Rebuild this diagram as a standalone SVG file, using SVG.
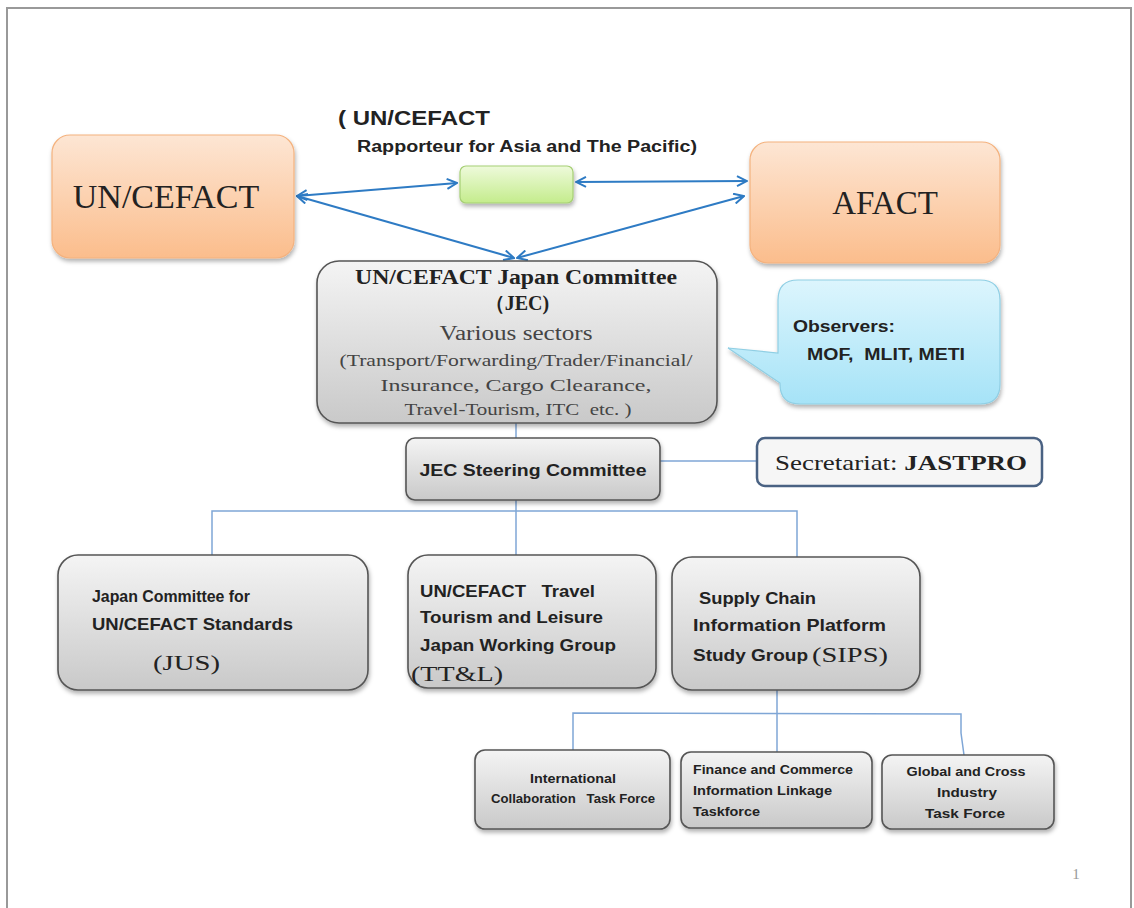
<svg xmlns="http://www.w3.org/2000/svg" width="1134" height="908" viewBox="0 0 1134 908">
<defs>
<linearGradient id="gOrange" x1="0" y1="0" x2="0" y2="1"><stop offset="0" stop-color="#fde6d4"/><stop offset="1" stop-color="#fbbd8c"/></linearGradient>
<linearGradient id="gGray" x1="0" y1="0" x2="0" y2="1"><stop offset="0" stop-color="#f4f4f4"/><stop offset="1" stop-color="#c9c9c9"/></linearGradient>
<linearGradient id="gGreen" x1="0" y1="0" x2="0" y2="1"><stop offset="0" stop-color="#eefadb"/><stop offset="1" stop-color="#c4ec8c"/></linearGradient>
<linearGradient id="gBlue" x1="0" y1="0" x2="0" y2="1"><stop offset="0" stop-color="#dcf5fd"/><stop offset="1" stop-color="#a6e3f7"/></linearGradient>
<filter id="sh" x="-10%" y="-10%" width="125%" height="130%"><feDropShadow dx="1" dy="3" stdDeviation="2" flood-color="#000" flood-opacity="0.3"/></filter>
<marker id="ah" viewBox="0 0 12 12" refX="11" refY="6" markerWidth="12" markerHeight="12" markerUnits="userSpaceOnUse" orient="auto-start-reverse"><path d="M1,1 L11,6 L1,11" fill="none" stroke="#2e7bc4" stroke-width="2"/></marker>
<style>
text{white-space:pre}
.orange{fill:url(#gOrange);stroke:#f4b27e;stroke-width:1.2}
.gray{fill:url(#gGray);stroke:#555;stroke-width:1.6}
.green{fill:url(#gGreen);stroke:#a6cf74;stroke-width:1.2}
.blue{fill:url(#gBlue);stroke:#90cfe4;stroke-width:1.2}
.serif{font-family:"Liberation Serif","DejaVu Serif",serif;fill:#222}
.sans{font-family:"Liberation Sans","DejaVu Sans",sans-serif;fill:#222;font-weight:bold}
.arrow{stroke:#2e7bc4;stroke-width:2;fill:none}
.conn{stroke:#7fa6d6;stroke-width:1.5;fill:none}
</style>
</defs>
<rect x="0" y="0" width="1134" height="908" fill="#fff"/>
<rect x="7" y="8" width="1124" height="910" fill="none" stroke="#999" stroke-width="2"/>

<text class="sans" x="338" y="125" font-size="20" textLength="152" lengthAdjust="spacingAndGlyphs">( UN/CEFACT</text>
<text class="sans" x="357" y="152" font-size="16" textLength="340" lengthAdjust="spacingAndGlyphs">Rapporteur for Asia and The Pacific)</text>

<g id="connectors">
<line class="arrow" x1="297" y1="196" x2="457" y2="183" marker-start="url(#ah)" marker-end="url(#ah)"/>
<line class="arrow" x1="576" y1="182" x2="747" y2="181" marker-start="url(#ah)" marker-end="url(#ah)"/>
<line class="arrow" x1="297" y1="196" x2="514" y2="258" marker-start="url(#ah)" marker-end="url(#ah)"/>
<line class="arrow" x1="744" y1="196" x2="517" y2="258" marker-start="url(#ah)" marker-end="url(#ah)"/>
<line class="conn" x1="516" y1="423" x2="516" y2="438"/>
<line class="conn" x1="660" y1="461" x2="757" y2="461"/>
<line class="conn" x1="516" y1="500" x2="516" y2="555"/>
<polyline class="conn" points="212,555 212,511 797,511 797,557"/>
<line class="conn" x1="777" y1="690" x2="777" y2="752"/>
<polyline class="conn" points="573,750 573,713 961,714 961,733 964,755"/>
</g>

<g id="uncefact">
<rect class="orange" x="52" y="135" width="242" height="123" rx="18" filter="url(#sh)"/>
<text class="serif" x="166" y="208" font-size="34" text-anchor="middle">UN/CEFACT</text>
</g>

<g id="rapporteur">
<rect class="green" x="460" y="166" width="113" height="37" rx="6" filter="url(#sh)"/>
</g>

<g id="afact">
<rect class="orange" x="750" y="142" width="250" height="121" rx="18" filter="url(#sh)"/>
<text class="serif" x="885" y="214" font-size="33" text-anchor="middle">AFACT</text>
</g>

<g id="jec">
<rect class="gray" x="317" y="261" width="400" height="162" rx="22" filter="url(#sh)"/>
<text class="serif" x="516" y="284" font-size="20" font-weight="bold" text-anchor="middle" textLength="322" lengthAdjust="spacingAndGlyphs">UN/CEFACT Japan Committee</text>
<text class="serif" x="517" y="310" font-size="20" font-weight="bold" text-anchor="middle">（JEC)</text>
<text class="serif" x="516" y="340" font-size="20" text-anchor="middle" textLength="153" lengthAdjust="spacingAndGlyphs" style="fill:#444">Various sectors</text>
<text class="serif" x="516" y="366" font-size="17" text-anchor="middle" textLength="353" lengthAdjust="spacingAndGlyphs" style="fill:#444">(Transport/Forwarding/Trader/Financial/</text>
<text class="serif" x="516" y="391" font-size="17" text-anchor="middle" textLength="271" lengthAdjust="spacingAndGlyphs" style="fill:#444">Insurance, Cargo Clearance,</text>
<text class="serif" x="518" y="415" font-size="17" text-anchor="middle" textLength="227" lengthAdjust="spacingAndGlyphs" style="fill:#444">Travel-Tourism, ITC  etc. )</text>
</g>

<g id="observers">
<path class="blue" d="M798,280 H980 Q1000,280 1000,300 V384 Q1000,404 980,404 H800 Q780,404 780,384 V383 L728,348 L778,353 V300 Q778,280 798,280 Z" filter="url(#sh)"/>
<text class="sans" x="793" y="332" font-size="16" textLength="102" lengthAdjust="spacingAndGlyphs">Observers:</text>
<text class="sans" x="807" y="360" font-size="16" textLength="158" lengthAdjust="spacingAndGlyphs">MOF,  MLIT, METI</text>
</g>

<g id="steering">
<rect class="gray" x="406" y="438" width="254" height="62" rx="9" filter="url(#sh)"/>
<text class="sans" x="533" y="476" font-size="17" text-anchor="middle" textLength="227" lengthAdjust="spacingAndGlyphs">JEC Steering Committee</text>
</g>

<g id="secretariat">
<rect x="757" y="438" width="285" height="48" rx="8" fill="#f6f6f6" stroke="#4a6283" stroke-width="2.5"/>
<text class="serif" x="775" y="470" font-size="21" textLength="252" lengthAdjust="spacingAndGlyphs">Secretariat: <tspan font-weight="bold">JASTPRO</tspan></text>
</g>

<g id="jus">
<rect class="gray" x="58" y="555" width="310" height="135" rx="20" filter="url(#sh)"/>
<text class="sans" x="92" y="602" font-size="17" textLength="158" lengthAdjust="spacingAndGlyphs">Japan Committee for</text>
<text class="sans" x="92" y="630" font-size="17" textLength="201" lengthAdjust="spacingAndGlyphs">UN/CEFACT Standards</text>
<text class="serif" x="153" y="670" font-size="22" textLength="67" lengthAdjust="spacingAndGlyphs">(JUS)</text>
</g>

<g id="ttl">
<rect class="gray" x="408" y="555" width="248" height="133" rx="20" filter="url(#sh)"/>
<text class="sans" x="420" y="597" font-size="17" textLength="175" lengthAdjust="spacingAndGlyphs">UN/CEFACT   Travel</text>
<text class="sans" x="420" y="623" font-size="17" textLength="183" lengthAdjust="spacingAndGlyphs">Tourism and Leisure</text>
<text class="sans" x="420" y="651" font-size="17" textLength="196" lengthAdjust="spacingAndGlyphs">Japan Working Group</text>
<text class="serif" x="411" y="681" font-size="22" textLength="92" lengthAdjust="spacingAndGlyphs">(TT&amp;L)</text>
</g>

<g id="sips">
<rect class="gray" x="672" y="557" width="248" height="133" rx="20" filter="url(#sh)"/>
<text class="sans" x="699" y="604" font-size="17" textLength="117" lengthAdjust="spacingAndGlyphs">Supply Chain</text>
<text class="sans" x="693" y="631" font-size="17" textLength="193" lengthAdjust="spacingAndGlyphs">Information Platform</text>
<text class="sans" x="693" y="661" font-size="17" textLength="115" lengthAdjust="spacingAndGlyphs">Study Group</text>
<text class="serif" x="812" y="662" font-size="22" textLength="76" lengthAdjust="spacingAndGlyphs">(SIPS)</text>
</g>

<g id="intl">
<rect class="gray" x="475" y="750" width="195" height="79" rx="10" filter="url(#sh)"/>
<text class="sans" x="573" y="783" font-size="12" text-anchor="middle" textLength="86" lengthAdjust="spacingAndGlyphs">International</text>
<text class="sans" x="573" y="803" font-size="12" text-anchor="middle" textLength="164" lengthAdjust="spacingAndGlyphs">Collaboration   Task Force</text>
</g>

<g id="finance">
<rect class="gray" x="681" y="752" width="191" height="76" rx="10" filter="url(#sh)"/>
<text class="sans" x="693" y="774" font-size="13" textLength="160" lengthAdjust="spacingAndGlyphs">Finance and Commerce</text>
<text class="sans" x="693" y="795" font-size="13" textLength="139" lengthAdjust="spacingAndGlyphs">Information Linkage</text>
<text class="sans" x="693" y="816" font-size="13" textLength="67" lengthAdjust="spacingAndGlyphs">Taskforce</text>
</g>

<g id="global">
<rect class="gray" x="882" y="755" width="172" height="74" rx="10" filter="url(#sh)"/>
<text class="sans" x="966" y="776" font-size="13" text-anchor="middle" textLength="119" lengthAdjust="spacingAndGlyphs">Global and Cross</text>
<text class="sans" x="967" y="797" font-size="13" text-anchor="middle" textLength="60" lengthAdjust="spacingAndGlyphs">Industry</text>
<text class="sans" x="965" y="818" font-size="13" text-anchor="middle" textLength="80" lengthAdjust="spacingAndGlyphs">Task Force</text>
</g>

<text x="1076" y="879" font-family="Liberation Serif, serif" font-size="15" fill="#999" text-anchor="middle">1</text>
</svg>
